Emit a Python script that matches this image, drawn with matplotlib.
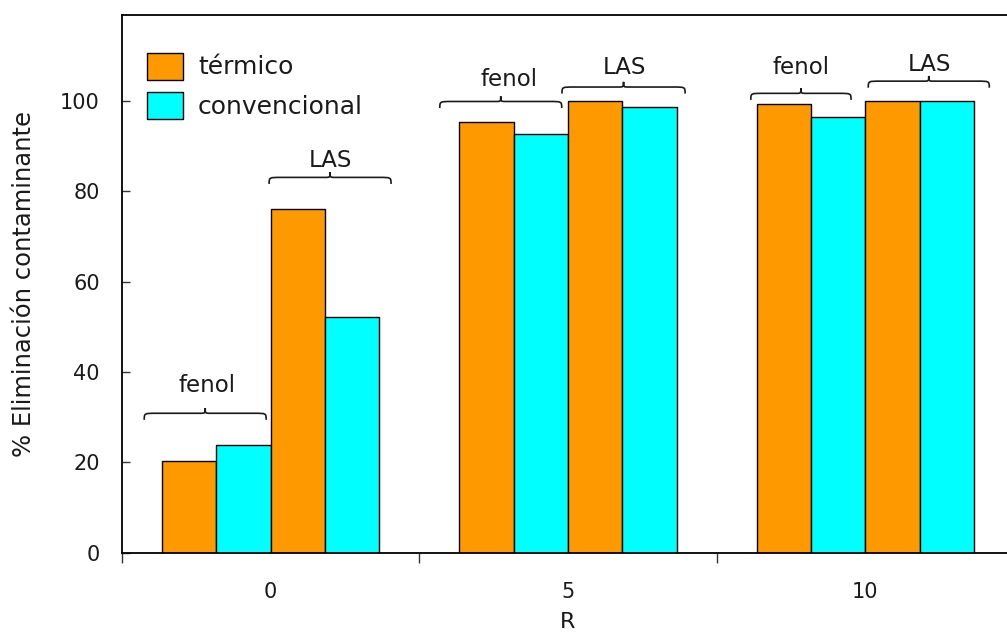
"""
Eliminación de contaminante (fenol y LAS) frente a R, térmico vs convencional.
"""

import numpy as np
import matplotlib
matplotlib.use("Agg")
import matplotlib.pyplot as plt
from matplotlib.path import Path
from matplotlib.patches import PathPatch

# datos
r_labels = ["0", "5", "10"]
termico_fenol = [20.3, 95.3, 99.2]
convencional_fenol = [23.8, 92.7, 96.4]
termico_las = [76.1, 100.0, 99.9]
convencional_las = [52.2, 98.7, 100.0]

series_names = ["térmico", "convencional"]
colors = ["#FF9900", "#00FFFF"]

# llaves: (x izq, x der, y puntas, texto, x texto, y texto)
braces = [
    (-0.425, -0.015, 29.4, "fenol", -0.215, 37.1),
    (-0.005, 0.405, 81.6, "LAS", 0.200, 86.9),
    (0.569, 0.979, 98.4, "fenol", 0.802, 104.7),
    (0.980, 1.394, 101.6, "LAS", 1.191, 107.3),
    (1.615, 1.952, 100.2, "fenol", 1.784, 107.3),
    (2.010, 2.417, 102.9, "LAS", 2.215, 108.0),
]

plt.rcParams["font.family"] = ["DejaVu Sans"]
TXT = "#1a1a1a"


def draw_brace(ax, x0, x1, y0):
    r1, h1 = 0.040, 1.45
    r2, h2 = 0.017, 1.15
    xm = (x0 + x1) / 2
    yh = y0 + h1
    yt = yh + h2
    verts = [
        (x0, y0), (x0, yh), (x0, yh), (x0 + r1, yh),
        (xm - r2, yh),
        (xm, yh), (xm, yh), (xm, yt),
        (xm, yh), (xm, yh), (xm + r2, yh),
        (x1 - r1, yh),
        (x1, yh), (x1, yh), (x1, y0),
    ]
    codes = [
        Path.MOVETO, Path.CURVE4, Path.CURVE4, Path.CURVE4,
        Path.LINETO,
        Path.CURVE4, Path.CURVE4, Path.CURVE4,
        Path.CURVE4, Path.CURVE4, Path.CURVE4,
        Path.LINETO,
        Path.CURVE4, Path.CURVE4, Path.CURVE4,
    ]
    ax.add_patch(PathPatch(Path(verts, codes), facecolor="none",
                           edgecolor=TXT, lw=1.2, clip_on=False))


fig = plt.figure(figsize=(10.07, 6.39), dpi=100)
ax = fig.add_axes([0.1211, 0.1351, 0.8858, 0.8415])

x = np.arange(len(r_labels))
w = 0.1827

ax.bar(x - 1.5 * w, termico_fenol, w, color=colors[0], edgecolor="black",
       lw=1.0, label=series_names[0], zorder=2)
ax.bar(x - 0.5 * w, convencional_fenol, w, color=colors[1], edgecolor="black",
       lw=1.0, label=series_names[1], zorder=2)
ax.bar(x + 0.5 * w, termico_las, w, color=colors[0], edgecolor="black",
       lw=1.0, zorder=2)
ax.bar(x + 1.5 * w, convencional_las, w, color=colors[1], edgecolor="black",
       lw=1.0, zorder=2)

for x0, x1, y0, txt, tx, ty in braces:
    draw_brace(ax, x0, x1, y0)
    ax.text(tx, ty, txt, ha="center", va="center", fontsize=16.5, color=TXT)

ax.set_xlim(-0.5, 2.5)
ax.set_ylim(0, 119)

ax.set_xticks(x)
ax.set_xticklabels(r_labels, fontsize=15, color=TXT)
ax.set_xticks([-0.5, 0.5, 1.5, 2.5], minor=True)
ax.tick_params(axis="x", which="major", length=0, pad=21)
ax.tick_params(axis="x", which="minor", length=7, width=1.0,
               direction="out", color="#333333")

ax.set_yticks([0, 20, 40, 60, 80, 100])
ax.tick_params(axis="y", length=6, width=1.0, direction="in",
               color="#333333", labelsize=15, labelcolor=TXT, pad=16)

ax.set_xlabel("R", fontsize=16, color=TXT, labelpad=7)
ax.set_ylabel("% Eliminación contaminante", fontsize=17.5, color=TXT,
              labelpad=17)

ax.spines["right"].set_visible(False)
for s in ["left", "bottom", "top"]:
    ax.spines[s].set_linewidth(1.3)

ax.legend(loc="upper left", bbox_to_anchor=(0.028, 0.93), frameon=False,
          fontsize=18, handlelength=1.44, handleheight=1.28,
          handletextpad=0.6, labelspacing=0.5, borderaxespad=0,
          borderpad=0, labelcolor=TXT)

fig.savefig("out.png", dpi=100)
